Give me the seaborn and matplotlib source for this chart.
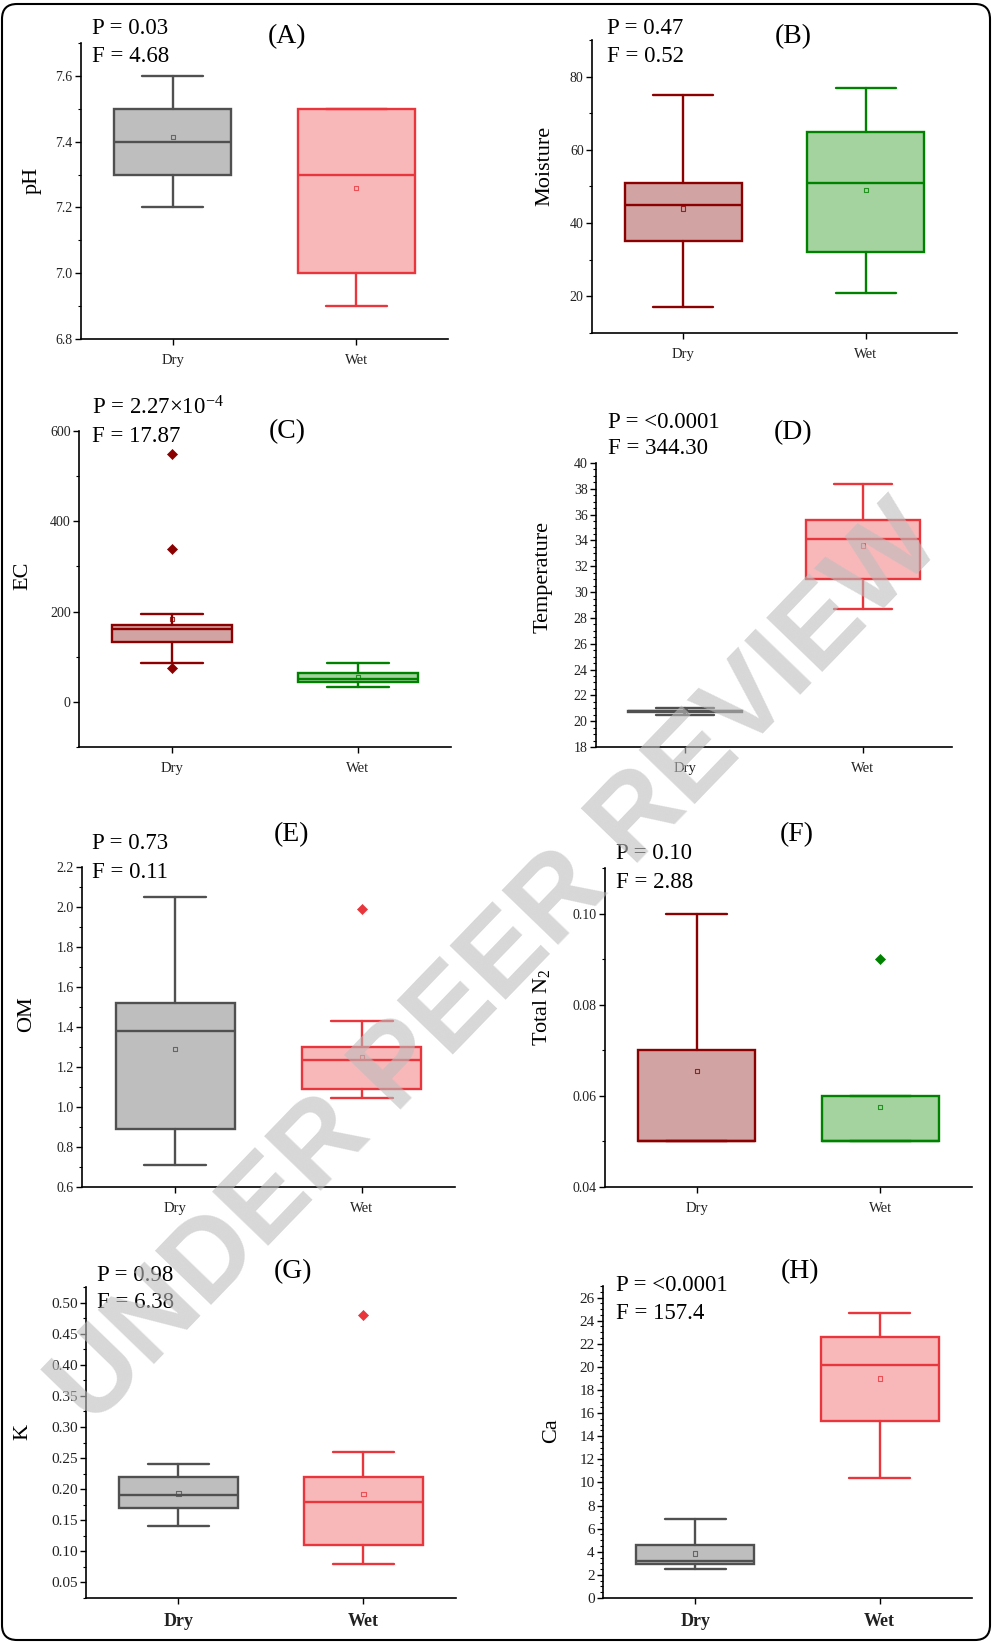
import numpy as np
import pandas as pd
import seaborn as sns
import matplotlib.pyplot as plt
from matplotlib.ticker import MultipleLocator, FormatStrFormatter
from matplotlib.patches import FancyBboxPatch

groups = ['Dry', 'Wet']

# five-number summaries per group: whisker low, Q1, median, Q3, whisker high
ph_box = [[7.2, 7.3, 7.4, 7.5, 7.6], [6.9, 7.0, 7.3, 7.5, 7.5]]
ph_mean = [7.415, 7.26]
ph_out = [[], []]

moist_box = [[17, 35, 45, 51, 75], [21, 32, 51, 65, 77]]
moist_mean = [44, 49]
moist_out = [[], []]

ec_box = [[87, 133, 162, 170, 195], [33, 43, 50, 65, 87]]
ec_mean = [183, 55]
ec_out = [[550, 338, 74], []]

temp_box = [[20.45, 20.7, 20.75, 20.8, 21.05], [28.7, 31.0, 34.1, 35.55, 38.4]]
temp_mean = [20.75, 33.6]
temp_out = [[], []]

om_box = [[0.71, 0.89, 1.38, 1.52, 2.05], [1.045, 1.09, 1.235, 1.30, 1.43]]
om_mean = [1.29, 1.25]
om_out = [[], [1.99]]

n2_box = [[0.05, 0.05, 0.05, 0.07, 0.10], [0.05, 0.05, 0.05, 0.06, 0.06]]
n2_mean = [0.0655, 0.0575]
n2_out = [[], [0.09]]

k_box = [[0.14, 0.17, 0.19, 0.22, 0.24], [0.08, 0.11, 0.18, 0.22, 0.26]]
k_mean = [0.193, 0.192]
k_out = [[], [0.48]]

ca_box = [[2.5, 2.9, 3.2, 4.6, 6.8], [10.4, 15.3, 20.2, 22.6, 24.7]]
ca_mean = [3.85, 19.0]
ca_out = [[], []]

p_values = ['0.03', '0.47', '2.27×10$^{-4}$', '<0.0001', '0.73', '0.10', '0.98', '<0.0001']
f_values = ['4.68', '0.52', '17.87', '344.30', '0.11', '2.88', '6.38', '157.4']
y_names = ['pH', 'Moisture', 'EC', 'Temperature', 'OM', 'Total N$_2$', 'K', 'Ca']
letters = ['(A)', '(B)', '(C)', '(D)', '(E)', '(F)', '(G)', '(H)']

# colours (edge, fill)
GREY = ('#505050', '#bebebe')
RED = ('#e8363c', '#f8b8ba')
DRED = ('#8b0000', '#d2a3a3')
GREEN = ('#008200', '#a4d3a0')

W, H = 995, 1642

sns.set_theme(style='ticks')
plt.rcParams['font.family'] = ['Liberation Serif', 'DejaVu Serif']
plt.rcParams['mathtext.fontset'] = 'custom'
plt.rcParams['mathtext.rm'] = 'Liberation Serif'
plt.rcParams['mathtext.it'] = 'Liberation Serif:italic'
plt.rcParams['mathtext.default'] = 'regular'

fig = plt.figure(figsize=(W / 100, H / 100), dpi=100)

# axes box in pixels: left, right, bottom, top ; ylim ; major, minor, fmt
panels = [
    dict(box=ph_box, mean=ph_mean, out=ph_out, col=[GREY, RED], px=(81, 448, 339, 43),
         ylim=(6.8, 7.7), major=0.2, minor=0.1, fmt='%.1f',
         ptxt=(92, 28), ftxt=(92, 56), ttl=(287, 37), ylab=(32, 180)),
    dict(box=moist_box, mean=moist_mean, out=moist_out, col=[DRED, GREEN], px=(592, 957, 333, 40),
         ylim=(10, 90), major=20, minor=10, fmt='%d',
         ptxt=(607, 28), ftxt=(607, 56), ttl=(793, 37), ylab=(545, 166)),
    dict(box=ec_box, mean=ec_mean, out=ec_out, col=[DRED, GREEN], px=(79, 451, 747, 431),
         ylim=(-100, 600), major=200, minor=100, fmt='%d',
         ptxt=(92, 408), ftxt=(92, 437), ttl=(287, 432), ylab=(23, 576)),
    dict(box=temp_box, mean=temp_mean, out=temp_out, col=[GREY, RED], px=(596, 952, 747, 463),
         ylim=(18, 40), major=2, minor=0.5, fmt='%d',
         ptxt=(608, 422), ftxt=(608, 449), ttl=(793, 433), ylab=(543, 577)),
    dict(box=om_box, mean=om_mean, out=om_out, col=[GREY, RED], px=(82, 455, 1187, 867),
         ylim=(0.6, 2.2), major=0.2, minor=0.1, fmt='%.1f',
         ptxt=(92, 843), ftxt=(92, 872), ttl=(292, 835), ylab=(27, 1014)),
    dict(box=n2_box, mean=n2_mean, out=n2_out, col=[DRED, GREEN], px=(605, 972, 1187, 868),
         ylim=(0.04, 0.11), major=0.02, minor=0.01, fmt='%.2f',
         ptxt=(616, 853), ftxt=(616, 882), ttl=(797, 835), ylab=(541, 1007)),
    dict(box=k_box, mean=k_mean, out=k_out, col=[GREY, RED], px=(86, 456, 1598, 1287),
         ylim=(0.025, 0.525), major=0.05, minor=0.025, fmt='%.2f',
         ptxt=(97, 1275), ftxt=(97, 1303), ttl=(293, 1272), ylab=(23, 1432)),
    dict(box=ca_box, mean=ca_mean, out=ca_out, col=[GREY, RED], px=(603, 972, 1598, 1286),
         ylim=(0, 27), major=2, minor=0.5, fmt='%d',
         ptxt=(616, 1285), ftxt=(616, 1313), ttl=(800, 1272), ylab=(552, 1431)),
]


def fx(x):
    return x / W


def fy(y):
    return 1 - y / H


for k, p in enumerate(panels):
    l, r, b, t = p['px']
    ax = fig.add_axes([fx(l), fy(b), (r - l) / W, (b - t) / H])

    stats = []
    for i, g in enumerate(groups):
        lo, q1, med, q3, hi = p['box'][i]
        stats.append(dict(whislo=lo, q1=q1, med=med, q3=q3, whishi=hi, fliers=[], label=g))
    bp = ax.bxp(stats, positions=[0, 1], widths=0.64, capwidths=0.33, patch_artist=True,
                showfliers=False, manage_ticks=False)
    for i, (edge, face) in enumerate(p['col']):
        bp['boxes'][i].set(facecolor=face, edgecolor=edge, linewidth=1.7)
        bp['medians'][i].set(color=edge, linewidth=1.7)
        for line in bp['whiskers'][2 * i:2 * i + 2] + bp['caps'][2 * i:2 * i + 2]:
            line.set(color=edge, linewidth=1.7)

        # mean marker and outliers
        sns.scatterplot(x=[i], y=[p['mean'][i]], marker='s', s=10, facecolor='none',
                        edgecolor=edge, linewidth=0.8, alpha=0.8, ax=ax, zorder=5)
        if p['out'][i]:
            sns.scatterplot(x=[i] * len(p['out'][i]), y=p['out'][i], marker='D', s=26,
                            color=edge, edgecolor=edge, linewidth=0.5, ax=ax, zorder=5)

    ax.set_xlim(-0.5, 1.5)
    ax.set_ylim(*p['ylim'])
    ax.set_xticks([0, 1])
    bold = k >= 6
    ax.set_xticklabels(groups, fontsize=13 if bold else 10.5,
                       fontweight='bold' if bold else 'normal')
    ax.yaxis.set_major_locator(MultipleLocator(p['major']))
    ax.yaxis.set_minor_locator(MultipleLocator(p['minor']))
    ax.yaxis.set_major_formatter(FormatStrFormatter(p['fmt']))
    sns.despine(ax=ax)
    for s in ['left', 'bottom']:
        ax.spines[s].set_color('black')
        ax.spines[s].set_linewidth(1.2)
    ax.tick_params(axis='y', which='major', length=4, width=1, pad=2,
                   labelsize=11 if bold else 10, labelcolor='#222222', color='black')
    ax.tick_params(axis='y', which='minor', length=2.2, width=0.8, color='black')
    ax.tick_params(axis='x', which='major', length=4, width=1, pad=7, labelcolor='#222222', color='black')
    ax.grid(False)

    ax.set_ylabel(y_names[k], fontsize=16, color='black')
    ax.yaxis.set_label_coords(fx(p['ylab'][0]), fy(p['ylab'][1]), transform=fig.transFigure)
    ax.yaxis.label.set_va('center')

    fig.text(fx(p['ptxt'][0]), fy(p['ptxt'][1]), 'P = ' + p_values[k], fontsize=16.5,
             ha='left', va='center', color='black')
    fig.text(fx(p['ftxt'][0]), fy(p['ftxt'][1]), 'F = ' + f_values[k], fontsize=16.5,
             ha='left', va='center', color='black')
    fig.text(fx(p['ttl'][0]), fy(p['ttl'][1]), letters[k], fontsize=20,
             ha='center', va='center', color='black')

# rounded frame around the whole figure
frame = FancyBboxPatch((0.02, 0.02), 9.88, 16.36, boxstyle='round,pad=0,rounding_size=0.15',
                       transform=fig.dpi_scale_trans, fill=False, lw=1.5, ec='black')
fig.add_artist(frame)

# watermark
fig.text(fx(92), fy(1428), 'UNDER PEER REVIEW', fontsize=82, family='Liberation Sans',
         fontweight='bold', rotation=46, rotation_mode='anchor', ha='left', va='baseline',
         color='#bdbdbd', alpha=0.6, zorder=10)

fig.savefig('out.png', dpi=100)
